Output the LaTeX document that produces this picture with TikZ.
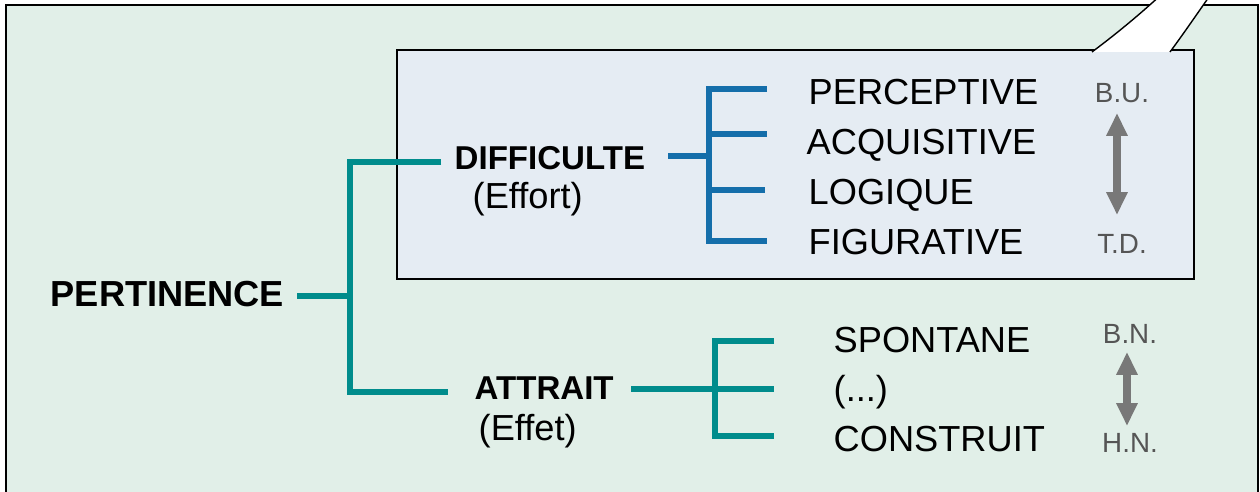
\documentclass[tikz,border=0pt]{standalone}
\usepackage{fontspec}
\setmainfont{Liberation Sans}
\usetikzlibrary{arrows.meta}
\definecolor{bgouter}{RGB}{225,239,232}
\definecolor{bginner}{RGB}{229,236,243}
\definecolor{tealbr}{RGB}{0,140,140}
\definecolor{bluebr}{RGB}{20,110,170}
\definecolor{greyarr}{RGB}{120,120,120}
\definecolor{greytxt}{RGB}{85,85,85}

\begin{document}
\begin{tikzpicture}[x=0.01cm,y=-0.01cm,line join=miter,
	tealbar/.style={line width=1.7pt,color=tealbr},
	bluebar/.style={line width=1.55pt,color=bluebr},
	headtxt/.style={inner sep=0pt,anchor=base west,font=\fontsize{9.4}{11}\selectfont\bfseries},
	itemtxt/.style={inner sep=0pt,anchor=base west,font=\fontsize{10.3}{12}\selectfont},
	scaletxt/.style={inner sep=0pt,anchor=base,text=greytxt,font=\fontsize{7.9}{9}\selectfont},
	scalearrow/.style={line width=2pt,color=greyarr,{Triangle[width=5.7pt,length=6.5pt]}-{Triangle[width=5.7pt,length=6.5pt]}}]
				\clip (0,0) rectangle (1260,492);
				% frames
				\draw [line width=0.7pt,fill=bgouter] (6,5) rectangle (1258,540);
				\draw [line width=0.45pt,fill=bginner] (397,50) rectangle (1194,279);
				\fill [white] (1092,52) .. controls (1120,31) and (1140,14) .. (1162,-6) -- (1211,-6) .. controls (1197,14) and (1184,33) .. (1170,52) -- cycle;
				\draw [line width=0.4pt] (1092,52) .. controls (1120,31) and (1140,14) .. (1162,-6);
				\draw [line width=0.4pt] (1170,52) .. controls (1184,33) and (1197,14) .. (1211,-6);
				% texts
				\node[headtxt,font=\fontsize{10.3}{12}\selectfont\bfseries] (pert) at (50,307) {PERTINENCE};
				\node[headtxt] (diff) at (454,170) {DIFFICULTE};
				\node[itemtxt] (effort) at (472,209) {(Effort)};
				\node[headtxt] (attr) at (474,400) {ATTRAIT};
				\node[itemtxt] (effet) at (478,441) {(Effet)};
				\node[itemtxt] (perc) at (808,105) {PERCEPTIVE};
				\node[itemtxt] (acqu) at (806,155) {ACQUISITIVE};
				\node[itemtxt] (logi) at (808,205) {LOGIQUE};
				\node[itemtxt] (figu) at (808,255) {FIGURATIVE};
				\node[itemtxt] (spon) at (833,353) {SPONTANE};
				\node[itemtxt] (dots) at (833,402) {(...)};
				\node[itemtxt] (cons) at (833,452) {CONSTRUIT};
				\node[scaletxt] (bu) at (1122,103) {B.U.};
				\node[scaletxt] (td) at (1122,254) {T.D.};
				\node[scaletxt] (bn) at (1130,344) {B.N.};
				\node[scaletxt] (hn) at (1130,453) {H.N.};
				% bracket points
				\coordinate (p0) at (297,296);
				\coordinate (pj) at (350,296);
				\coordinate (pt) at (350,162);
				\coordinate (pb) at (350,392);
				\coordinate (dl) at (441,162);
				\coordinate (al) at (448,392);
				\coordinate (d0) at (668,156);
				\coordinate (dj) at (709,156);
				\coordinate (dt) at (709,89);
				\coordinate (db) at (709,241);
				\coordinate (a0) at (631,389);
				\coordinate (aj) at (715,389);
				\coordinate (at) at (715,341);
				\coordinate (ab) at (715,436);
				% brackets
				\draw [tealbar] (p0) -- (pj);
				\draw [tealbar] (dl) -- (pt) -- (pb) -- (al);
				\draw [bluebar] (d0) -- (dj);
				\draw [bluebar] (767,89) -- (dt) -- (db) -- (767,241);
				\draw [bluebar] (709,134) -- (767,134);
				\draw [bluebar] (709,190) -- (765,190);
				\draw [tealbar] (a0) -- (aj);
				\draw [tealbar] (774,341) -- (at) -- (ab) -- (774,436);
				\draw [tealbar] (aj) -- (774,389);
				% scales
				\coordinate (but) at (1117,113);
				\coordinate (tdt) at (1117,215);
				\coordinate (bnt) at (1127,352);
				\coordinate (hnt) at (1127,426);
				\draw [scalearrow] (but) -- (tdt);
				\draw [scalearrow] (bnt) -- (hnt);
\end{tikzpicture}
\end{document}
